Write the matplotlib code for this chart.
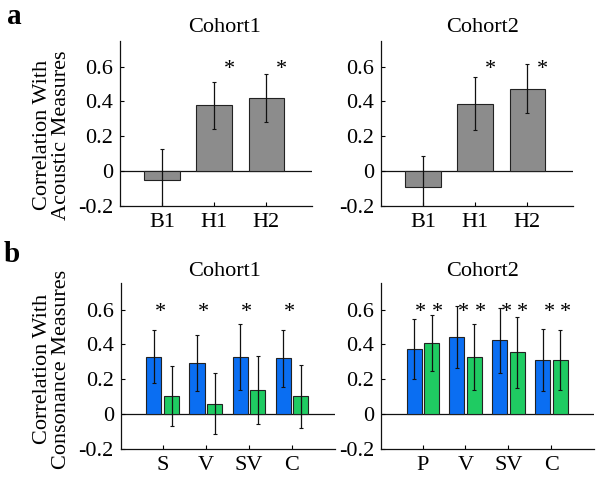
import matplotlib
matplotlib.use("Agg")
import matplotlib.pyplot as plt
import numpy as np

plt.rcParams['font.family'] = ['Liberation Serif', 'DejaVu Serif']

# ---------------- data ----------------
a_labels = ["B1", "H1", "H2"]
a_c1_vals = [-0.052, 0.379, 0.420]
a_c1_err = [0.180, 0.135, 0.140]
a_c1_sig = [False, True, True]
a_c2_vals = [-0.092, 0.388, 0.474]
a_c2_err = [0.178, 0.150, 0.140]
a_c2_sig = [False, True, True]

b_c1_labels = ["S", "V", "SV", "C"]
b_c1_blue = [0.330, 0.294, 0.328, 0.320]
b_c1_blue_err = [0.150, 0.160, 0.190, 0.162]
b_c1_green = [0.104, 0.061, 0.138, 0.104]
b_c1_green_err = [0.172, 0.176, 0.195, 0.180]
b_c1_blue_sig = [True, True, True, True]
b_c1_green_sig = [False, False, False, False]

b_c2_labels = ["P", "V", "SV", "C"]
b_c2_blue = [0.374, 0.441, 0.424, 0.311]
b_c2_blue_err = [0.172, 0.178, 0.186, 0.178]
b_c2_green = [0.407, 0.328, 0.355, 0.311]
b_c2_green_err = [0.160, 0.188, 0.205, 0.170]
b_c2_blue_sig = [True, True, True, True]
b_c2_green_sig = [True, True, True, True]

yticks = [-0.2, 0, 0.2, 0.4, 0.6]
ytick_labels = ["-0.2", "0", "0.2", "0.4", "0.6"]

GRAY = "#8c8c8c"
BLUE = "#0a6ef2"
GREEN = "#1fcb62"
EDGE = "#222222"
FS = 16

fig = plt.figure(figsize=(6, 4.8), dpi=100)

def px_axes(l, t, r, b):
    return fig.add_axes([l / 600, 1 - b / 480, (r - l) / 600, (b - t) / 480])

def style(ax, xlim, ticks, labels):
    ax.set_ylim(-0.2, 0.75)
    ax.set_xlim(*xlim)
    ax.set_yticks(yticks)
    ax.set_yticklabels(ytick_labels)
    ax.set_xticks(ticks)
    ax.set_xticklabels(labels)
    for s in ("top", "right"):
        ax.spines[s].set_visible(False)
    for s in ("left", "bottom"):
        ax.spines[s].set_linewidth(0.9)
        ax.spines[s].set_color("#111111")
    ax.tick_params(direction="in", length=3, width=0.8, labelsize=FS, pad=5)
    ax.axhline(0, color="#111111", lw=0.9, zorder=1)

def stars(ax, xs, sig):
    for x, s in zip(xs, sig):
        if s:
            ax.text(x, 0.585, "*", ha="center", va="center", fontsize=FS)

# ---- panel a ----
for (l, r, vals, err, sig) in [(120, 312, a_c1_vals, a_c1_err, a_c1_sig),
                               (381, 573, a_c2_vals, a_c2_err, a_c2_sig)]:
    ax = px_axes(l, 40.5, r, 206)
    x = np.arange(1, len(vals) + 1)
    ax.bar(x, vals, width=0.68, color=GRAY, edgecolor=EDGE, linewidth=0.8, zorder=2)
    ax.errorbar(x, vals, yerr=err, fmt="none", ecolor="#111111", elinewidth=0.9,
                capsize=1.5, capthick=0.8, zorder=3)
    stars(ax, x + 0.29, sig)
    style(ax, (0.19, 3.88), x, a_labels)

# ---- panel b ----
for (l, r, labels, bl, ble, gr, gre, bs, gs) in [
        (120.7, 335, b_c1_labels, b_c1_blue, b_c1_blue_err, b_c1_green, b_c1_green_err,
         b_c1_blue_sig, b_c1_green_sig),
        (381, 594, b_c2_labels, b_c2_blue, b_c2_blue_err, b_c2_green, b_c2_green_err,
         b_c2_blue_sig, b_c2_green_sig)]:
    ax = px_axes(l, 283.3, r, 449.3)
    x = np.arange(1, len(bl) + 1)
    xb = x - 0.2
    xg = x + 0.21
    ax.bar(xb, bl, width=0.35, color=BLUE, edgecolor=EDGE, linewidth=0.8, zorder=2)
    ax.bar(xg, gr, width=0.35, color=GREEN, edgecolor=EDGE, linewidth=0.8, zorder=2)
    ax.errorbar(xb, bl, yerr=ble, fmt="none", ecolor="#111111", elinewidth=0.9,
                capsize=1.5, capthick=0.8, zorder=3)
    ax.errorbar(xg, gr, yerr=gre, fmt="none", ecolor="#111111", elinewidth=0.9,
                capsize=1.5, capthick=0.8, zorder=3)
    stars(ax, x - 0.05, bs)
    stars(ax, x + 0.34, gs)
    style(ax, (0.03, 5.0), x, labels)

# titles
for (x, y, t) in [(225, 27, "Cohort1"), (483, 27, "Cohort2"),
                  (225, 272, "Cohort1"), (483, 272, "Cohort2")]:
    fig.text(x / 600, 1 - y / 480, t, ha="center", va="center", fontsize=FS)

# y labels
fig.text(52 / 600, 1 - 135 / 480, "Correlation With\nAcoustic Measures", rotation=90,
         ha="center", va="center", multialignment="center", fontsize=FS, linespacing=1.0)
fig.text(52 / 600, 1 - 369 / 480, "Correlation With\nConsonance Measures", rotation=90,
         ha="center", va="center", multialignment="center", fontsize=FS, linespacing=1.0)

# panel letters
fig.text(14 / 600, 1 - 17 / 480, "a", ha="center", va="center", fontsize=21, fontweight="bold")
fig.text(12 / 600, 1 - 255 / 480, "b", ha="center", va="center", fontsize=21, fontweight="bold")

fig.savefig("out.png", dpi=100)
